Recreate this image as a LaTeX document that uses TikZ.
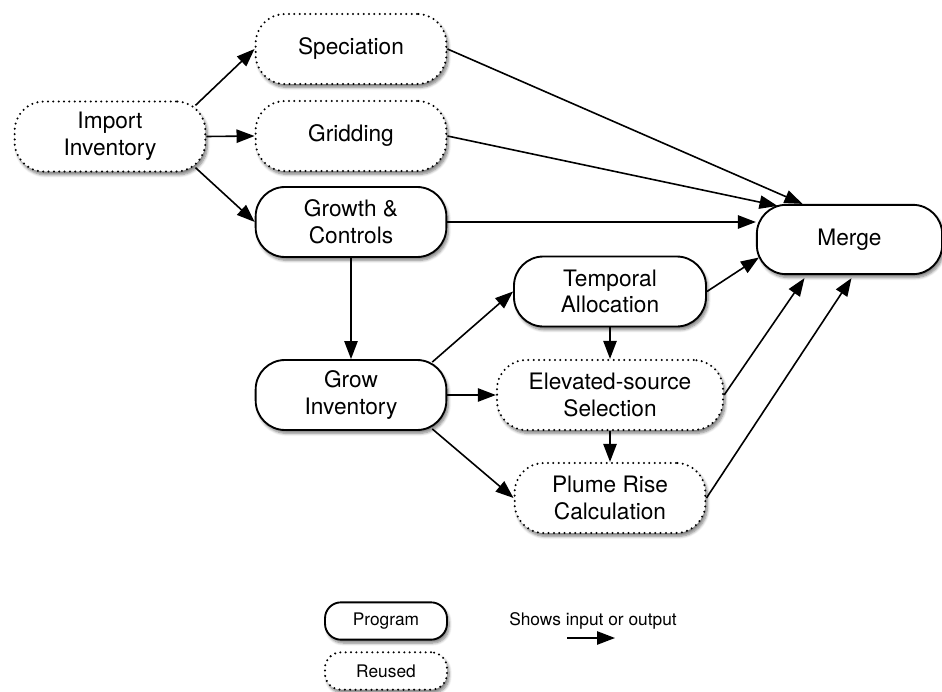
\documentclass[tikz,border=0pt]{standalone}
\usepackage{fontspec}
\setmainfont{TeX Gyre Heros}
\usepackage{tikz}
\usetikzlibrary{arrows.meta}
\usetikzlibrary{calc}
\usetikzlibrary{shadows.blur}

\begin{document}
\begin{tikzpicture}[x=0.75pt,y=0.75pt,yscale=-1,xscale=1,
  box/.style={rectangle,rounded corners=22pt,fill=white,minimum width=143pt,minimum height=52.5pt,inner sep=2pt,align=center,font=\fontsize{17}{20}\selectfont,blur shadow={shadow xshift=1.5pt,shadow yshift=-2.5pt,shadow opacity=50,shadow blur steps=6}},
  progbox/.style={box,draw,line width=1.4pt},
  reusebox/.style={box,draw,line width=1.7pt,dash pattern=on 0pt off 4pt,line cap=round},
  keybox/.style={minimum width=91.5pt,minimum height=28pt,rounded corners=12pt,font=\fontsize{13}{15}\selectfont},
  flowarrow/.style={line width=1.2pt,-{Triangle[length=13.5pt,width=10pt]}}
]
%set diagram left start at 0, and has height of 692
\useasboundingbox (0,0) rectangle (942,692);

%Shape: Rounded Rect [id:import] 
\draw (110,136.5) node [reusebox] (Import) {Import\\Inventory};
%Shape: Rounded Rect [id:speciation] 
\draw (351,49) node [reusebox] (Speciation) {Speciation};
%Shape: Rounded Rect [id:gridding] 
\draw (351,136) node [reusebox] (Gridding) {Gridding};
%Shape: Rounded Rect [id:growth] 
\draw (351,222) node [progbox] (Growth) {Growth \&\\Controls};
%Shape: Rounded Rect [id:merge] 
\draw (849.5,239.5) node [progbox,minimum width=139pt,minimum height=52pt] (Merge) {Merge};
%Shape: Rounded Rect [id:temporal] 
\draw (610,291.5) node [progbox,minimum width=144pt] (Temporal) {Temporal\\Allocation};
%Shape: Rounded Rect [id:grow] 
\draw (351,395) node [progbox] (Grow) {Grow\\Inventory};
%Shape: Rounded Rect [id:elevated] 
\draw (610,395) node [reusebox,minimum width=169.5pt] (Elevated) {Elevated-source\\Selection};
%Shape: Rounded Rect [id:plume] 
\draw (610,498) node [reusebox] (Plume) {Plume Rise\\Calculation};

%Straight Lines [id:import out] 
\draw [flowarrow] ($(Import.north east)+(-11,5)$) -- (Speciation.west);
\draw [flowarrow] (Import.east) -- (Gridding.west);
\draw [flowarrow] ($(Import.south east)+(-11,-5)$) -- (Growth.west);
%Straight Lines [id:to merge] 
\draw [flowarrow] (Speciation.east) -- ($(Merge.north)+(-47,0)$);
\draw [flowarrow] (Gridding.east) -- ($(Merge.north)+(-72,2)$);
\draw [flowarrow] (Growth.east) -- (Growth.east -| Merge.west);
\draw [flowarrow] (Temporal.east) -- ($(Merge.west)+(3,18)$);
\draw [flowarrow] (Elevated.east) -- ($(Merge.south)+(-45,3)$);
\draw [flowarrow] (Plume.east) -- ($(Merge.south)+(2,3)$);
%Straight Lines [id:grow] 
\draw [flowarrow] (Growth.south) -- (Grow.north);
\draw [flowarrow] ($(Grow.north east)+(-15,3)$) -- (Temporal.west);
\draw [flowarrow] (Grow.east) -- (Elevated.west);
\draw [flowarrow] ($(Grow.south east)+(-15,-2)$) -- (Plume.west);
\draw [flowarrow] (Temporal.south) -- (Elevated.north);
\draw [flowarrow] (Elevated.south) -- (Plume.north);

%Shape: Rounded Rect [id:key] 
\draw (386,621) node [progbox,keybox] (Program) {Program};
\draw (386,671) node [reusebox,keybox] (Reused) {Reused};
% Text Node
\draw (593,621) node [font=\fontsize{13}{15}\selectfont] (Shows) {Shows input or output};
%Straight Lines [id:key arrow] 
\coordinate (KeyStart) at (567,638);
\coordinate (KeyEnd) at (615,638);
\draw [flowarrow] (KeyStart) -- (KeyEnd);

\end{tikzpicture}
\end{document}
